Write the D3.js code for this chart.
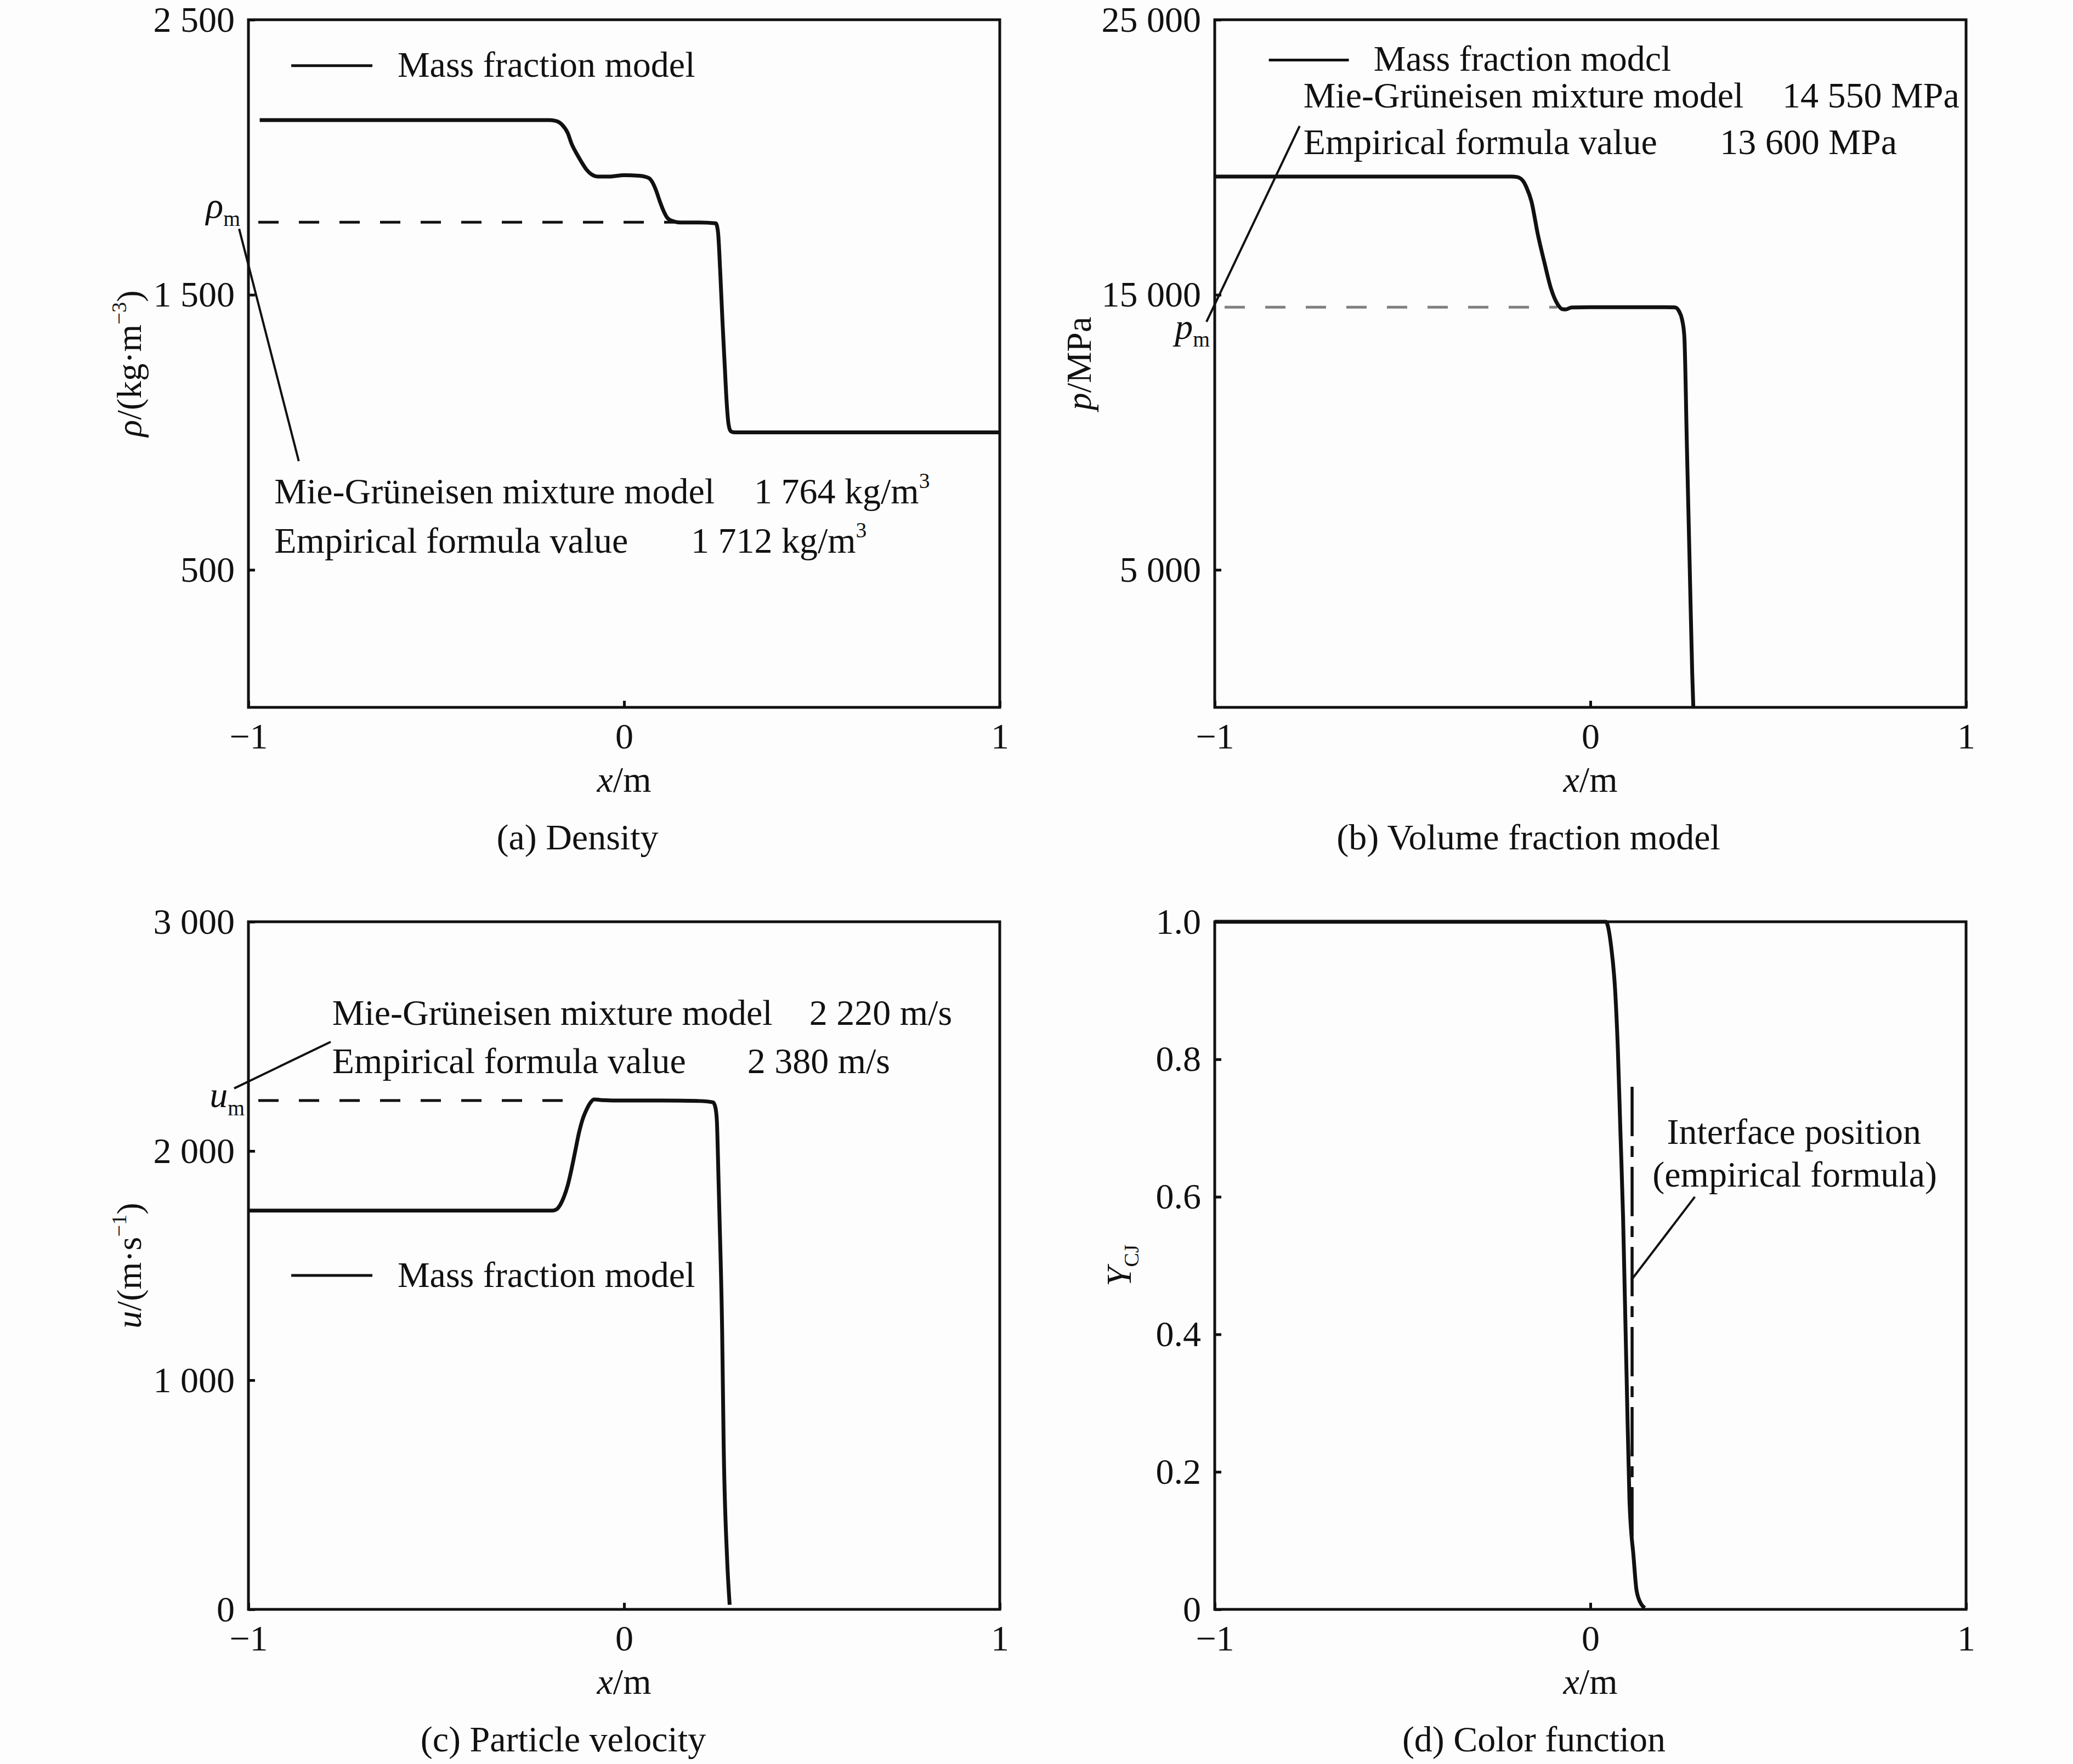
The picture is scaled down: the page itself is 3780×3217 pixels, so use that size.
<!DOCTYPE html>
<html>
<head>
<meta charset="utf-8">
<script src="https://d3js.org/d3.v7.min.js"></script>
<style>
  body { margin: 0; background: #fdfdfd; }
  svg { display: block; }
  text { font-family: "Liberation Serif", "Times New Roman", serif; fill: #111; font-size: 66px; }
  .tick line { stroke: #111; stroke-width: 5; }
</style>
</head>
<body>
<svg id="chart" width="3780" height="3217"></svg>
<script>
// shared x axis
var xTicks = [-1, 0, 1];
var xTickLabels = ["\u22121", "0", "1"];

// (a) density, kg/m3
var rhoX = [-0.97, -0.6, -0.2, -0.184, -0.165, -0.15, -0.14, -0.125, -0.113, -0.1, -0.087, -0.07, -0.04, 0, 0.04, 0.065, 0.075, 0.085, 0.095, 0.105, 0.115, 0.13, 0.15, 0.2, 0.244, 0.25, 0.256, 0.262, 0.268, 0.273, 0.278, 0.284, 0.292, 0.35, 1.0];
var rhoY = [2135, 2135, 2135, 2133, 2118, 2088, 2050, 2010, 1982, 1955, 1938, 1930, 1930, 1935, 1933, 1925, 1910, 1880, 1840, 1805, 1780, 1768, 1763, 1763, 1760, 1728, 1580, 1400, 1240, 1110, 1030, 1004, 1000, 1000, 1000];
var rhoTicks = [500, 1500, 2500];
var rhoTickLabels = ["500", "1 500", "2 500"];
var rhoM = 1764;

// (b) pressure, MPa
var presX = [-1, -0.6, -0.21, -0.195, -0.18, -0.17, -0.157, -0.14, -0.122, -0.105, -0.087, -0.075, -0.065, -0.05, 0, 0.1, 0.2, 0.226, 0.236, 0.244, 0.25, 0.257, 0.264, 0.271, 0.274];
var presY = [19300, 19300, 19300, 19280, 19150, 18900, 18400, 17200, 16150, 15230, 14650, 14480, 14470, 14540, 14550, 14550, 14550, 14540, 14400, 14100, 13500, 9420, 5340, 1260, 0];
var presTicks = [5000, 15000, 25000];
var presTickLabels = ["5 000", "15 000", "25 000"];
var presM = 14550;

// (c) particle velocity, m/s
var velX = [-1, -0.6, -0.19, -0.18, -0.17, -0.16, -0.15, -0.14, -0.13, -0.12, -0.11, -0.1, -0.09, -0.08, -0.06, 0, 0.1, 0.2, 0.237, 0.243, 0.247, 0.251, 0.254, 0.261, 0.265, 0.274, 0.281];
var velY = [1740, 1740, 1740, 1745, 1765, 1800, 1850, 1920, 2000, 2080, 2140, 2180, 2210, 2225, 2222, 2220, 2220, 2218, 2212, 2190, 2130, 1900, 1710, 1216, 723, 229, 20];
var velTicks = [0, 1000, 2000, 3000];
var velTickLabels = ["0", "1 000", "2 000", "3 000"];
var velM = 2220;

// (d) color function
var colX = [-1, -0.5, 0, 0.041, 0.055, 0.066, 0.073, 0.08, 0.087, 0.092, 0.097, 0.104, 0.115, 0.123, 0.136, 0.145];
var colY = [1, 1, 1, 1, 0.965, 0.899, 0.816, 0.693, 0.57, 0.447, 0.323, 0.159, 0.076, 0.027, 0.007, 0.002];
var colTicks = [0, 0.2, 0.4, 0.6, 0.8, 1.0];
var colTickLabels = ["0", "0.2", "0.4", "0.6", "0.8", "1.0"];
var interfaceX = 0.111;

var W = 1370, H = 1254, FS = 66;

var panels = [
  { left: 453, top: 36, x: rhoX, y: rhoY, yMax: 2500, ticks: rhoTicks, tickLabels: rhoTickLabels,
    title: "(a) Density", titleX: 600, ylabX: -196,
    ylab: [{t: "\u03c1", it: true}, {t: "/(kg\u00b7m"}, {t: "\u22123", sup: true}, {t: ")"}],
    ref: {y: rhoM, x: [-1, 0.143], color: "#111"},
    sym: {x: -1.022, y: 1780, parts: [{t: "\u03c1", it: true}, {t: "m", sub: true}]},
    leader: [[-1.0248, 1740], [-0.866, 895]],
    legend: {x: [-0.886, -0.670], y: 2333},
    texts: [
      {x: -0.603, y: 2293, parts: [{t: "Mass fraction model"}]},
      {x: -0.931, y: 742, parts: [{t: "Mie-Gr\u00fcneisen mixture model"}]},
      {x: 0.346, y: 742, parts: [{t: "1 764 kg/m"}, {t: "3", sup: true}]},
      {x: -0.931, y: 562, parts: [{t: "Empirical formula value"}]},
      {x: 0.178, y: 562, parts: [{t: "1 712 kg/m"}, {t: "3", sup: true}]}
    ] },
  { left: 2215, top: 36, x: presX, y: presY, yMax: 25000, ticks: presTicks, tickLabels: presTickLabels,
    title: "(b) Volume fraction model", titleX: 572, ylabX: -226,
    ylab: [{t: "p", it: true}, {t: "/MPa"}],
    ref: {y: presM, x: [-1, -0.088], color: "#808080"},
    sym: {x: -1.013, y: 13400, parts: [{t: "p", it: true}, {t: "m", sub: true}]},
    leader: [[-1.022, 14016], [-0.774, 21133]],
    legend: {x: [-0.856, -0.643], y: 23535},
    texts: [
      {x: -0.577, y: 23150, parts: [{t: "Mass fraction modcl"}]},
      {x: -0.764, y: 21820, parts: [{t: "Mie-Gr\u00fcneisen mixture model"}]},
      {x: 0.511, y: 21820, parts: [{t: "14 550 MPa"}]},
      {x: -0.764, y: 20115, parts: [{t: "Empirical formula value"}]},
      {x: 0.345, y: 20115, parts: [{t: "13 600 MPa"}]}
    ] },
  { left: 453, top: 1681, x: velX, y: velY, yMax: 3000, ticks: velTicks, tickLabels: velTickLabels,
    title: "(c) Particle velocity", titleX: 574, ylabX: -196,
    ylab: [{t: "u", it: true}, {t: "/(m\u00b7s"}, {t: "\u22121", sup: true}, {t: ")"}],
    ref: {y: velM, x: [-1, -0.137], color: "#111"},
    sym: {x: -1.01, y: 2191, parts: [{t: "u", it: true}, {t: "m", sub: true}]},
    leader: [[-1.038, 2273], [-0.781, 2476]],
    legend: {x: [-0.886, -0.670], y: 1457},
    texts: [
      {x: -0.777, y: 2550, parts: [{t: "Mie-Gr\u00fcneisen mixture model"}]},
      {x: 0.493, y: 2550, parts: [{t: "2 220 m/s"}]},
      {x: -0.777, y: 2340, parts: [{t: "Empirical formula value"}]},
      {x: 0.328, y: 2340, parts: [{t: "2 380 m/s"}]},
      {x: -0.603, y: 1407, parts: [{t: "Mass fraction model"}]}
    ] },
  { left: 2215, top: 1681, x: colX, y: colY, yMax: 1, ticks: colTicks, tickLabels: colTickLabels,
    title: "(d) Color function", titleX: 582, ylabX: -153,
    ylab: [{t: "Y", it: true}, {t: "CJ", sub: true}],
    vline: {x: interfaceX, y: [0.76, 0.1]},
    leader: [[0.278, 0.600], [0.109, 0.479]],
    texts: [
      {x: 0.542, y: 0.677, anchor: "middle", parts: [{t: "Interface position"}]},
      {x: 0.544, y: 0.615, anchor: "middle", parts: [{t: "(empirical formula)"}]}
    ] }
];

var svg = d3.select("#chart");
svg.append("rect").attr("width", 3780).attr("height", 3217).attr("fill", "#fdfdfd");

// text with italic / super / subscript parts
function rich(sel, parts, size) {
  var shift = 0;
  parts.forEach(function(p) {
    var target = p.sup ? -0.42 * size : (p.sub ? 0.22 * size : 0);
    var ts = sel.append("tspan").text(p.t)
      .attr("dy", target - shift)
      .style("font-size", (p.sup || p.sub ? size * 0.6 : size) + "px");
    if (p.it) ts.style("font-style", "italic");
    shift = target;
  });
}

panels.forEach(function(p) {
  var g = svg.append("g").attr("transform", "translate(" + [p.left, p.top] + ")");

  var xScale = d3.scaleLinear().domain([-1, 1]).range([0, W]);
  var yScale = d3.scaleLinear().domain([0, p.yMax]).range([H, 0]);

  var yAxis = d3.axisLeft(yScale)
    .tickValues(p.ticks)
    .tickFormat(function(d, i) { return p.tickLabels[i]; })
    .tickSizeInner(-12).tickSizeOuter(0).tickPadding(25);
  var xAxis = d3.axisBottom(xScale)
    .tickValues(xTicks)
    .tickFormat(function(d, i) { return xTickLabels[i]; })
    .tickSizeInner(-12).tickSizeOuter(0).tickPadding(28);

  var ya = g.append("g").call(yAxis);
  var xa = g.append("g").attr("transform", "translate(0," + H + ")").call(xAxis);
  [ya, xa].forEach(function(a) {
    a.attr("font-family", null).attr("font-size", null);
    a.select(".domain").remove();
  });

  // reference dashed line
  if (p.ref) {
    g.append("line")
      .attr("x1", xScale(p.ref.x[0])).attr("x2", xScale(p.ref.x[1]))
      .attr("y1", yScale(p.ref.y)).attr("y2", yScale(p.ref.y))
      .attr("stroke", p.ref.color).attr("stroke-width", 5)
      .attr("stroke-dasharray", "37,37").attr("stroke-dashoffset", -18);
  }

  // interface position (dash-dot)
  if (p.vline) {
    g.append("line")
      .attr("x1", xScale(p.vline.x)).attr("x2", xScale(p.vline.x))
      .attr("y1", yScale(p.vline.y[0])).attr("y2", yScale(p.vline.y[1]))
      .attr("stroke", "#111").attr("stroke-width", 5.5)
      .attr("stroke-dasharray", "90,18,20,18");
  }

  // main curve
  var line = d3.line()
    .x(function(d, i) { return xScale(p.x[i]); })
    .y(function(d) { return yScale(d); })
    .curve(d3.curveMonotoneX);
  g.append("path")
    .attr("d", line(p.y))
    .attr("fill", "none").attr("stroke", "#111").attr("stroke-width", 7)
    .attr("stroke-linejoin", "round");

  // leader line
  if (p.leader) {
    g.append("line")
      .attr("x1", xScale(p.leader[0][0])).attr("y1", yScale(p.leader[0][1]))
      .attr("x2", xScale(p.leader[1][0])).attr("y2", yScale(p.leader[1][1]))
      .attr("stroke", "#111").attr("stroke-width", 4);
  }

  // legend sample
  if (p.legend) {
    g.append("line")
      .attr("x1", xScale(p.legend.x[0])).attr("x2", xScale(p.legend.x[1]))
      .attr("y1", yScale(p.legend.y)).attr("y2", yScale(p.legend.y))
      .attr("stroke", "#111").attr("stroke-width", 5);
  }

  p.texts.forEach(function(t) {
    var el = g.append("text")
      .attr("x", xScale(t.x)).attr("y", yScale(t.y))
      .attr("text-anchor", t.anchor || "start");
    rich(el, t.parts, FS);
  });

  if (p.sym) {
    var s = g.append("text")
      .attr("x", xScale(p.sym.x)).attr("y", yScale(p.sym.y))
      .attr("text-anchor", "end");
    rich(s, p.sym.parts, FS);
  }

  // frame
  g.append("rect").attr("width", W).attr("height", H)
    .attr("fill", "none").attr("stroke", "#111").attr("stroke-width", 5);

  // axis titles
  var xl = g.append("text")
    .attr("x", xScale(0)).attr("y", H + 154).attr("text-anchor", "middle");
  rich(xl, [{t: "x", it: true}, {t: "/m"}], FS);

  var yl = g.append("text")
    .attr("transform", "translate(" + [p.ylabX, H / 2] + ") rotate(-90)")
    .attr("text-anchor", "middle");
  rich(yl, p.ylab, 64);

  g.append("text")
    .attr("x", p.titleX).attr("y", H + 259)
    .attr("text-anchor", "middle")
    .text(p.title);
});
</script>
</body>
</html>
